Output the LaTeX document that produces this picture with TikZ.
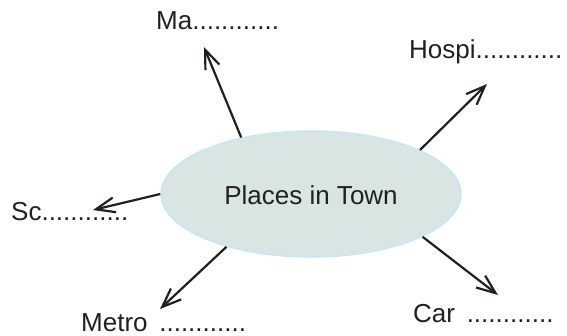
\documentclass[tikz,border=0pt]{standalone}
\usepackage{fontspec}
\setmainfont{Liberation Sans}
\usetikzlibrary{shapes.geometric,arrows.meta}
\definecolor{ink}{HTML}{231F20}
\definecolor{ovalfill}{HTML}{D9E5E2}
\definecolor{ovalline}{HTML}{C8E6F5}
\begin{document}
\begin{tikzpicture}[x=1pt,y=-1pt,
  lbl/.style={anchor=base west,inner sep=0pt,text=ink,font=\fontsize{26}{30}\selectfont},
  oval/.style={ellipse,draw=ovalline,fill=ovalfill,line width=1.5pt,minimum width=300pt,minimum height=126pt,inner sep=0pt},
  arr/.style={draw=ink,line width=2.2pt,-{Straight Barb[length=19pt,width=15pt]}}]
\useasboundingbox (0,0) rectangle (567,335);
\node[oval] (c) at (311,194) {};
\node[anchor=base,inner sep=0pt,text=ink,font=\fontsize{26}{30}\selectfont] (t) at (311,204) {Places in Town};
\node[lbl] (ma) at (156,29) {Ma............};
\node[lbl] (ho) at (409,58) {Hospi............};
\node[lbl] (sc) at (11,220) {Sc............};
\node[lbl] (me) at (81,331) {Metro\hspace{0.45em}............};
\node[lbl] (ca) at (413,322) {Car\hspace{0.45em}............};
\coordinate (tma) at (204,47);
\coordinate (tho) at (487,84);
\coordinate (tsc) at (93,210);
\coordinate (tme) at (160,309);
\coordinate (tca) at (498,295);
\draw[arr] (c.141) -- (tma);
\draw[arr] (c.22) -- (tho);
\draw[arr] (c.180) -- (tsc);
\draw[arr] (c.212) -- (tme);
\draw[arr] (c.339) -- (tca);
\end{tikzpicture}
\end{document}
